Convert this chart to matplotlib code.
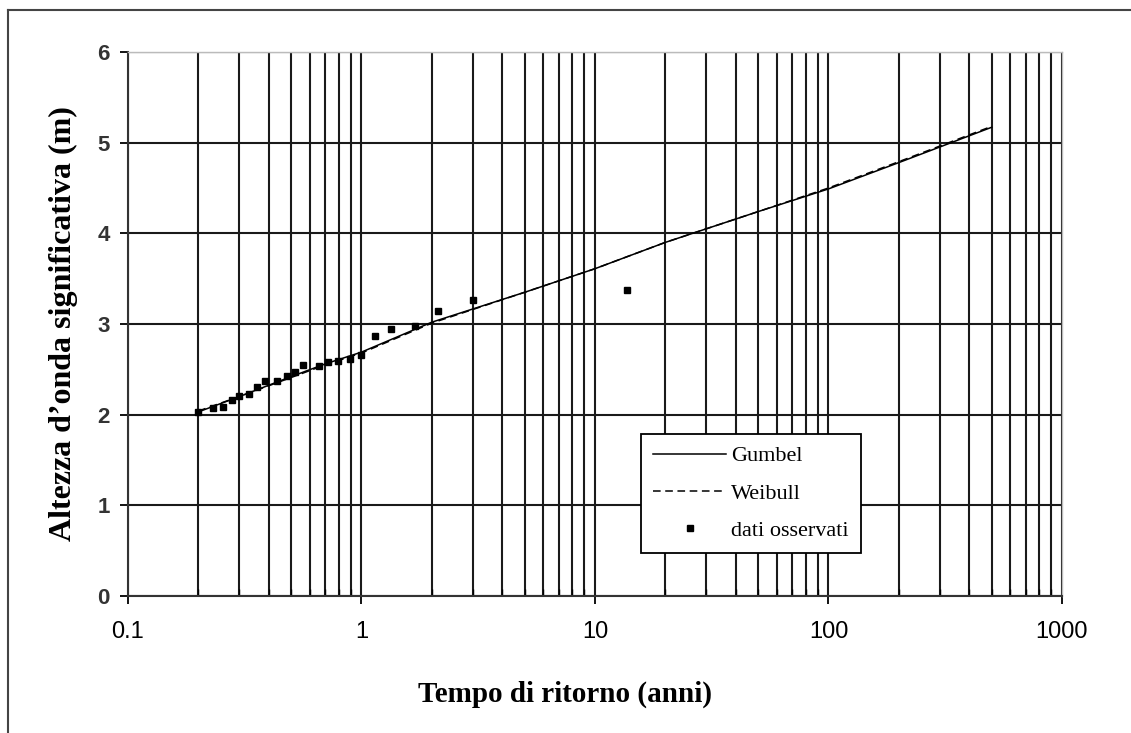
import matplotlib
matplotlib.use("Agg")
import matplotlib.pyplot as plt
from matplotlib.lines import Line2D
from matplotlib.ticker import LogLocator, FixedLocator, NullFormatter

# return period (years) and wave height (m)
gumbel_T = [0.2, 0.3, 0.5, 0.7, 1, 2, 5, 10, 20, 50, 100, 200, 500]
gumbel_H = [2.03, 2.20, 2.42, 2.56, 2.69, 3.02, 3.35, 3.61, 3.90, 4.24, 4.49, 4.78, 5.17]

weibull_T = [0.2, 0.3, 0.5, 0.7, 1, 2, 5, 10, 20, 50, 100, 200, 500]
weibull_H = [2.04, 2.20, 2.41, 2.55, 2.68, 3.01, 3.35, 3.61, 3.90, 4.24, 4.50, 4.79, 5.18]

obs_T = [0.20, 0.231, 0.255, 0.28, 0.30, 0.33, 0.357, 0.385, 0.433, 0.478, 0.518,
         0.563, 0.66, 0.72, 0.79, 0.89, 0.997, 1.14, 1.34, 1.69, 2.12, 3.0, 13.7]
obs_H = [2.03, 2.07, 2.09, 2.16, 2.21, 2.23, 2.30, 2.37, 2.37, 2.43, 2.47,
         2.55, 2.54, 2.58, 2.59, 2.61, 2.66, 2.87, 2.94, 2.98, 3.14, 3.26, 3.37]

y_ticks = [0, 1, 2, 3, 4, 5, 6]
x_ticks = [0.1, 1, 10, 100, 1000]
x_ticklabels = ["0.1", "1", "10", "100", "1000"]

fig = plt.figure(figsize=(11.31, 7.33), dpi=100)
ax = fig.add_axes([128 / 1131, 1 - 596 / 733, (1062 - 128) / 1131, (596 - 52) / 733])

ax.plot(gumbel_T, gumbel_H, color="black", lw=1.1, label="Gumbel", zorder=4)
ax.plot(weibull_T, weibull_H, color="black", lw=1.1, ls=(0, (5, 3)), label="Weibull", zorder=4)
ax.plot(obs_T, obs_H, ls="none", marker="s", ms=4.5, color="black", label="dati osservati", zorder=5)

ax.set_xscale("log")
ax.set_xlim(0.1, 1000)
ax.set_ylim(0, 6)
ax.set_xticks(x_ticks)
ax.set_xticklabels(x_ticklabels)
ax.xaxis.set_minor_locator(LogLocator(base=10, subs=range(2, 10)))
ax.xaxis.set_minor_formatter(NullFormatter())
ax.yaxis.set_major_locator(FixedLocator(y_ticks))

ax.grid(True, which="both", axis="x", color="#1a1a1a", lw=1.5)
ax.grid(True, which="major", axis="y", color="#1a1a1a", lw=1.5)
ax.set_axisbelow(True)

for s in ["left", "bottom"]:
    ax.spines[s].set_color("#333333")
    ax.spines[s].set_linewidth(1.5)
for s in ["top", "right"]:
    ax.spines[s].set_color("#bbbbbb")
    ax.spines[s].set_linewidth(1.0)

ax.tick_params(axis="both", which="major", direction="out", length=6, width=1.3)
ax.tick_params(axis="x", which="major", labelsize=17, pad=12)
ax.tick_params(axis="y", which="major", labelsize=16, pad=7)
ax.tick_params(axis="x", which="minor", direction="in", length=5, width=1.0)
for lab in ax.get_xticklabels() + ax.get_yticklabels():
    lab.set_fontfamily("Liberation Sans")
for lab in ax.get_yticklabels():
    lab.set_fontweight("bold")
    lab.set_color("#333333")

ax.set_xlabel("Tempo di ritorno (anni)", fontsize=21, fontweight="bold",
              family="Liberation Serif")
ax.xaxis.set_label_coords(0.468, -0.155)
ax.set_ylabel("Altezza d\u2019onda significativa (m)", fontsize=23, fontweight="bold",
              family="Liberation Serif", labelpad=14)

leg = ax.legend(loc="lower left", bbox_to_anchor=(0.549, 0.079), frameon=True,
                fancybox=False, edgecolor="black", framealpha=1, handlelength=3.3,
                prop={"family": "Liberation Serif", "size": 16}, borderpad=0.55,
                labelspacing=0.75, handletextpad=0.2, borderaxespad=0)
leg.get_frame().set_linewidth(1.3)

# outer frame (only left and top visible)
fig.add_artist(Line2D([8 / 1131, 8 / 1131], [0, 1 - 10 / 733], transform=fig.transFigure,
                      color="#444444", lw=1.5))
fig.add_artist(Line2D([8 / 1131, 1], [1 - 10 / 733, 1 - 10 / 733], transform=fig.transFigure,
                      color="#444444", lw=1.5))

fig.savefig("out.png", dpi=100)
